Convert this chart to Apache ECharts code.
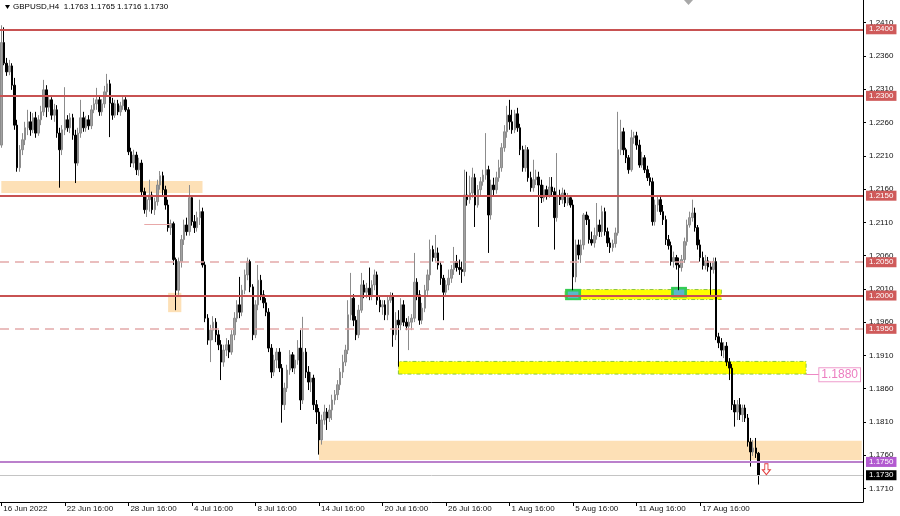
<!DOCTYPE html>
<html><head><meta charset="utf-8">
<script src="https://cdn.jsdelivr.net/npm/echarts@6/dist/echarts.min.js"></script>
<style>html,body{margin:0;padding:0;background:#fff}#c{width:900px;height:516px}</style>
</head><body><div id="c"></div>
<script>
// ---- data (GBPUSD H4, 16 Jun 2022 16:00 onward) ----
const opens = [
1.2226,1.2380,1.2349,1.2336,1.2345,1.2316,1.2256,1.2192,1.2219,1.2234,
1.2252,1.2261,1.2249,1.2267,1.2244,1.2264,1.2276,1.2309,1.2283,1.2294,
1.2271,1.2279,1.2244,1.2219,1.2249,1.2264,1.2252,1.2267,1.2241,1.2199,
1.2244,1.2267,1.2252,1.2264,1.2255,1.2279,1.2288,1.2294,1.2276,1.2288,
1.2306,1.2318,1.2289,1.2271,1.2288,1.2276,1.2285,1.2294,1.2279,1.2216,
1.2199,1.2211,1.2189,1.2199,1.2156,1.2129,1.2144,1.2151,1.2129,1.2141,
1.2166,1.2180,1.2159,1.2136,1.2102,1.2108,1.2054,1.2008,1.2051,1.2084,
1.2106,1.2096,1.2147,1.2111,1.2102,1.2117,1.2126,1.2046,1.1966,1.1933,
1.1948,1.1960,1.1941,1.1926,1.1900,1.1918,1.1926,1.1915,1.1941,1.1966,
1.1986,1.1975,1.2008,1.2031,1.2051,1.2013,1.1941,1.1986,1.2023,1.2001,
1.1989,1.1975,1.1921,1.1885,1.1903,1.1915,1.1891,1.1836,1.1861,1.1888,
1.1911,1.1891,1.1903,1.1921,1.1843,1.1915,1.1885,1.1870,1.1876,1.1836,
1.1825,1.1783,1.1813,1.1825,1.1816,1.1828,1.1843,1.1851,1.1866,1.1885,
1.1900,1.1918,1.1971,1.1996,1.1963,1.1941,1.1978,1.2016,1.2005,1.2011,
1.1999,1.2016,1.2031,1.1993,1.1983,1.1986,1.1971,1.1993,1.1998,1.1941,
1.1963,1.1956,1.1986,1.1960,1.1954,1.1960,1.1966,1.2020,1.2001,1.1963,
1.1981,1.2008,1.2031,1.2069,1.2057,1.2064,1.2046,1.2026,1.2005,1.2016,
1.2026,1.2039,1.2051,1.2042,1.2039,1.2036,1.2151,1.2144,1.2154,1.2177,
1.2136,1.2159,1.2171,1.2181,1.2189,1.2121,1.2166,1.2159,1.2177,1.2192,
1.2222,1.2246,1.2271,1.2261,1.2249,1.2273,1.2252,1.2219,1.2192,1.2219,
1.2177,1.2162,1.2174,1.2178,1.2166,1.2147,1.2159,1.2151,1.2163,1.2156,
1.2117,1.2151,1.2144,1.2154,1.2139,1.2147,1.2136,1.2028,1.2076,1.2061,
1.2076,1.2121,1.2114,1.2084,1.2079,1.2090,1.2106,1.2096,1.2126,1.2096,
1.2079,1.2072,1.2078,1.2094,1.2219,1.2246,1.2219,1.2207,1.2189,1.2237,
1.2240,1.2226,1.2196,1.2207,1.2189,1.2177,1.2171,1.2111,1.2136,1.2144,
1.2126,1.2114,1.2084,1.2075,1.2051,1.2057,1.2046,1.2042,1.2054,1.2081,
1.2106,1.2117,1.2124,1.2102,1.2076,1.2057,1.2045,1.2052,1.2043,1.2039,
1.2051,1.1938,1.1929,1.1918,1.1924,1.1900,1.1891,1.1836,1.1825,1.1836,
1.1821,1.1831,1.1816,1.1780,1.1765,1.1771,1.1763];
const closes = [
1.2380,1.2349,1.2336,1.2345,1.2316,1.2256,1.2192,1.2219,1.2234,1.2252,
1.2261,1.2249,1.2267,1.2244,1.2264,1.2276,1.2309,1.2283,1.2294,1.2271,
1.2279,1.2244,1.2219,1.2249,1.2264,1.2252,1.2267,1.2241,1.2199,1.2244,
1.2267,1.2252,1.2264,1.2255,1.2279,1.2288,1.2294,1.2276,1.2288,1.2306,
1.2318,1.2289,1.2271,1.2288,1.2276,1.2285,1.2294,1.2279,1.2216,1.2199,
1.2211,1.2189,1.2199,1.2156,1.2129,1.2144,1.2151,1.2129,1.2141,1.2166,
1.2180,1.2159,1.2136,1.2102,1.2108,1.2054,1.2008,1.2051,1.2084,1.2106,
1.2096,1.2147,1.2111,1.2102,1.2117,1.2126,1.2046,1.1966,1.1933,1.1948,
1.1960,1.1941,1.1926,1.1900,1.1918,1.1926,1.1915,1.1941,1.1966,1.1986,
1.1975,1.2008,1.2031,1.2051,1.2013,1.1941,1.1986,1.2023,1.2001,1.1989,
1.1975,1.1921,1.1885,1.1903,1.1915,1.1891,1.1836,1.1861,1.1888,1.1911,
1.1891,1.1903,1.1921,1.1843,1.1915,1.1885,1.1870,1.1876,1.1836,1.1825,
1.1783,1.1813,1.1825,1.1816,1.1828,1.1843,1.1851,1.1866,1.1885,1.1900,
1.1918,1.1971,1.1996,1.1963,1.1941,1.1978,1.2016,1.2005,1.2011,1.1999,
1.2016,1.2031,1.1993,1.1983,1.1986,1.1971,1.1993,1.1998,1.1941,1.1963,
1.1956,1.1986,1.1960,1.1954,1.1960,1.1966,1.2020,1.2001,1.1963,1.1981,
1.2008,1.2031,1.2069,1.2057,1.2064,1.2046,1.2026,1.2005,1.2016,1.2026,
1.2039,1.2051,1.2042,1.2039,1.2036,1.2151,1.2144,1.2154,1.2177,1.2136,
1.2159,1.2171,1.2181,1.2189,1.2121,1.2166,1.2159,1.2177,1.2192,1.2222,
1.2246,1.2271,1.2261,1.2249,1.2273,1.2252,1.2219,1.2192,1.2219,1.2177,
1.2162,1.2174,1.2178,1.2166,1.2147,1.2159,1.2151,1.2163,1.2156,1.2117,
1.2151,1.2144,1.2154,1.2139,1.2147,1.2136,1.2028,1.2076,1.2061,1.2076,
1.2121,1.2114,1.2084,1.2079,1.2090,1.2106,1.2096,1.2126,1.2096,1.2079,
1.2072,1.2078,1.2094,1.2219,1.2246,1.2219,1.2207,1.2189,1.2237,1.2240,
1.2226,1.2196,1.2207,1.2189,1.2177,1.2171,1.2111,1.2136,1.2144,1.2126,
1.2114,1.2084,1.2075,1.2051,1.2057,1.2046,1.2042,1.2054,1.2081,1.2106,
1.2117,1.2124,1.2102,1.2076,1.2057,1.2045,1.2052,1.2043,1.2039,1.2051,
1.1938,1.1929,1.1918,1.1924,1.1900,1.1891,1.1836,1.1825,1.1836,1.1821,
1.1831,1.1816,1.1780,1.1765,1.1771,1.1763,1.1730];
const lows = [
1.2222,1.2346,1.2330,1.2331,1.2309,1.2249,1.2186,1.2186,1.2211,1.2226,
1.2241,1.2240,1.2244,1.2237,1.2240,1.2256,1.2270,1.2268,1.2276,1.2264,
1.2261,1.2237,1.2162,1.2211,1.2241,1.2246,1.2244,1.2234,1.2169,1.2195,
1.2237,1.2246,1.2246,1.2249,1.2250,1.2274,1.2279,1.2270,1.2270,1.2282,
1.2300,1.2238,1.2264,1.2267,1.2271,1.2270,1.2279,1.2276,1.2211,1.2193,
1.2192,1.2181,1.2180,1.2150,1.2123,1.2118,1.2126,1.2123,1.2121,1.2135,
1.2159,1.2151,1.2129,1.2096,1.2091,1.2046,1.1978,1.2001,1.2042,1.2076,
1.2090,1.2090,1.2105,1.2094,1.2096,1.2106,1.2042,1.1960,1.1926,1.1900,
1.1933,1.1930,1.1918,1.1873,1.1893,1.1909,1.1906,1.1911,1.1933,1.1960,
1.1966,1.1969,1.2002,1.2023,1.2005,1.1933,1.1936,1.1978,1.1993,1.1981,
1.1969,1.1915,1.1876,1.1879,1.1891,1.1885,1.1809,1.1828,1.1855,1.1881,
1.1885,1.1882,1.1896,1.1828,1.1837,1.1876,1.1858,1.1855,1.1828,1.1807,
1.1761,1.1776,1.1806,1.1798,1.1810,1.1813,1.1836,1.1843,1.1858,1.1876,
1.1894,1.1912,1.1963,1.1954,1.1933,1.1936,1.1974,1.1996,1.1996,1.1993,
1.1993,1.2008,1.1986,1.1975,1.1971,1.1963,1.1963,1.1989,1.1923,1.1933,
1.1893,1.1948,1.1954,1.1948,1.1918,1.1948,1.1960,1.1993,1.1956,1.1957,
1.1975,1.2001,1.2023,1.2051,1.2051,1.2039,1.2016,1.1963,1.1999,1.2008,
1.2019,1.2031,1.2036,1.2031,1.2019,1.2029,1.2135,1.2138,1.2147,1.2103,
1.2132,1.2151,1.2165,1.2174,1.2064,1.2114,1.2151,1.2153,1.2171,1.2186,
1.2216,1.2237,1.2249,1.2243,1.2244,1.2246,1.2211,1.2186,1.2186,1.2171,
1.2156,1.2156,1.2166,1.2103,1.2139,1.2141,1.2144,1.2147,1.2148,1.2069,
1.2111,1.2136,1.2138,1.2133,1.2135,1.2132,1.2008,1.2020,1.2054,1.2049,
1.2069,1.2106,1.2078,1.2075,1.2072,1.2084,1.2088,1.2088,1.2090,1.2073,
1.2064,1.2066,1.2072,1.2090,1.2211,1.2211,1.2199,1.2183,1.2186,1.2228,
1.2219,1.2192,1.2192,1.2184,1.2172,1.2165,1.2105,1.2105,1.2126,1.2121,
1.2106,1.2076,1.2069,1.2045,1.2042,1.2039,1.2008,1.2036,1.2049,1.2075,
1.2102,1.2111,1.2096,1.2069,1.2051,1.2039,1.2039,1.2036,1.2001,1.2033,
1.1933,1.1921,1.1909,1.1906,1.1894,1.1873,1.1828,1.1803,1.1813,1.1813,
1.1810,1.1810,1.1773,1.1743,1.1759,1.1756,1.1716];
const highs = [
1.2406,1.2403,1.2357,1.2354,1.2349,1.2327,1.2264,1.2226,1.2244,1.2261,
1.2279,1.2276,1.2274,1.2276,1.2271,1.2285,1.2324,1.2316,1.2301,1.2298,
1.2288,1.2286,1.2252,1.2256,1.2313,1.2271,1.2274,1.2273,1.2249,1.2252,
1.2294,1.2276,1.2270,1.2271,1.2286,1.2297,1.2312,1.2300,1.2295,1.2315,
1.2333,1.2324,1.2297,1.2294,1.2294,1.2291,1.2300,1.2298,1.2283,1.2222,
1.2219,1.2216,1.2207,1.2204,1.2162,1.2151,1.2174,1.2156,1.2147,1.2174,
1.2187,1.2186,1.2165,1.2144,1.2114,1.2111,1.2057,1.2057,1.2091,1.2114,
1.2117,1.2166,1.2151,1.2121,1.2126,1.2144,1.2132,1.2051,1.1972,1.1956,
1.1969,1.1966,1.1948,1.1933,1.1926,1.1936,1.1933,1.1948,1.1975,1.1993,
1.2028,1.2016,1.2039,1.2057,1.2054,1.2017,1.1993,1.2046,1.2031,1.2008,
1.1996,1.1981,1.1927,1.1911,1.1921,1.1921,1.1897,1.1869,1.1896,1.1918,
1.1915,1.1911,1.1933,1.1948,1.1968,1.1921,1.1894,1.1885,1.1881,1.1843,
1.1831,1.1821,1.1836,1.1831,1.1836,1.1851,1.1858,1.1873,1.1891,1.1911,
1.1926,1.1993,1.2034,1.2002,1.1969,1.1986,1.2034,1.2023,1.2019,1.2042,
1.2023,1.2039,1.2036,1.1999,1.1993,1.1993,1.1999,1.2005,1.2004,1.1975,
1.1978,1.1996,1.1993,1.1966,1.1969,1.1972,1.2064,1.2026,1.2008,1.1989,
1.2016,1.2039,1.2084,1.2075,1.2091,1.2072,1.2051,1.2031,1.2023,1.2039,
1.2046,1.2073,1.2061,1.2054,1.2051,1.2189,1.2186,1.2180,1.2192,1.2183,
1.2166,1.2178,1.2189,1.2244,1.2195,1.2174,1.2177,1.2186,1.2204,1.2229,
1.2256,1.2285,1.2294,1.2279,1.2279,1.2282,1.2258,1.2225,1.2226,1.2223,
1.2186,1.2204,1.2189,1.2186,1.2174,1.2166,1.2165,1.2178,1.2178,1.2162,
1.2214,1.2159,1.2162,1.2159,1.2154,1.2151,1.2144,1.2084,1.2084,1.2084,
1.2124,1.2126,1.2120,1.2096,1.2102,1.2139,1.2114,1.2135,1.2132,1.2102,
1.2087,1.2084,1.2102,1.2276,1.2264,1.2252,1.2222,1.2211,1.2249,1.2246,
1.2246,1.2234,1.2216,1.2211,1.2195,1.2184,1.2177,1.2144,1.2150,1.2148,
1.2136,1.2120,1.2091,1.2081,1.2066,1.2061,1.2057,1.2061,1.2087,1.2114,
1.2126,1.2144,1.2132,1.2106,1.2084,1.2066,1.2061,1.2058,1.2051,1.2057,
1.2057,1.1944,1.1936,1.1930,1.1930,1.1906,1.1897,1.1843,1.1843,1.1846,
1.1836,1.1836,1.1822,1.1786,1.1783,1.1786,1.1765];

const xTickIndex = [0,24,48,72,96,120,144,168,192,216,240,264];
const xTickText = ['16 Jun 2022','22 Jun 16:00','28 Jun 16:00','4 Jul 16:00','8 Jul 16:00','14 Jul 16:00',
  '20 Jul 16:00','26 Jul 16:00','1 Aug 16:00','5 Aug 16:00','11 Aug 16:00','17 Aug 16:00'];
const yTickValues = [1.1710,1.1760,1.1810,1.1860,1.1910,1.1960,1.2010,1.2060,1.2110,1.2160,1.2210,1.2260,1.2310,1.2360,1.2410];

const solidLevels = [1.2400, 1.2300, 1.2150, 1.2000];
const dashedLevels = [1.2050, 1.1950];
const purpleLevel = 1.1750;
// zones: [fromBar, toBar, lowPrice, highPrice]
const peachZones = [[0,76,1.2154,1.2172],[63,68,1.1975,1.2004],[120,325,1.1753,1.1782]];
const yellowZones = [[150,304,1.1882,1.1901],[213,272,1.1994,1.2009]];
const greenBoxes = [[213,219,1.1993,1.2010],[253,259,1.1997,1.2013]];
const tealBoxes = [[214,218,1.1996,1.2006],[254,258,1.2000,1.2009]];
const thinSegment = [54,64,1.2107];
const targetLevel = {from:304, to:309, price:1.1881, text:'1.1880'};
const arrowPoint = [289, 1.1739];

// ---- chart ----
const N_SLOTS = 326;
const cats = [];
for (let i = 0; i < N_SLOTS; i++) cats.push(String(i));
const candles = opens.map((o, i) => [o, closes[i], lows[i], highs[i]]);
const last = opens.length - 1;
const FONT = 'Liberation Sans';

function area(z, style) {
  return [{coord:[z[0], z[2]], itemStyle: style}, {coord:[z[1], z[3]]}];
}
const areas = [];
peachZones.forEach(z => areas.push(area(z, {color:'#fde0b6'})));
yellowZones.forEach(z => areas.push(area(z, {color:'#ffff00', borderColor:'#8cc63f', borderWidth:1, borderType:[4,2,1,2]})));
greenBoxes.forEach(z => areas.push(area(z, {color:'#33cc55'})));
tealBoxes.forEach(z => areas.push(area(z, {color:'#5ab7c9'})));

function lvlLabel(bg) {
  return {show:true, position:'end', distance:3, formatter: p => Number(p.value).toFixed(4),
    color:'#fff', backgroundColor:bg, padding:[1,3,0,3], fontSize:8, fontFamily:FONT, lineHeight:9};
}
const lines = [];
solidLevels.forEach(v => lines.push({yAxis:v, lineStyle:{color:'#c85252', width:2, type:'solid'}, label:lvlLabel('#cf5a5a')}));
dashedLevels.forEach(v => lines.push({yAxis:v, lineStyle:{color:'#e3a9a9', width:1.5, type:[9,6]}, label:lvlLabel('#cf5a5a')}));
lines.push({yAxis:purpleLevel, lineStyle:{color:'#bb80cc', width:2, type:'solid'}, label:lvlLabel('#b25ad0')});
lines.push({yAxis:closes[last], lineStyle:{color:'#c4c4c4', width:1, type:'solid'}, label:lvlLabel('#000')});
lines.push([{coord:[thinSegment[0], thinSegment[2]], lineStyle:{color:'#e8a8a8', width:1, type:'solid'}, label:{show:false}},
            {coord:[thinSegment[1], thinSegment[2]]}]);
lines.push([{coord:[targetLevel.from, targetLevel.price], lineStyle:{color:'#ee88c4', width:1, type:'solid'},
             label:{show:true, position:'end', distance:0, formatter: targetLevel.text, color:'#ec7cc0',
               backgroundColor:'#fff', borderColor:'#ee9ccc', borderWidth:1, padding:[1,2,0,2], fontSize:12, fontFamily:FONT}},
            {coord:[targetLevel.to, targetLevel.price]}]);

const chart = echarts.init(document.getElementById('c'), null, {renderer:'canvas'});
chart.setOption({
  animation:false,
  backgroundColor:'#ffffff',
  grid:{left:0, right:37, top:0, bottom:14, containLabel:false},
  xAxis:{
    type:'category', data:cats, boundaryGap:true,
    axisLine:{show:true, lineStyle:{color:'#000', width:1}},
    axisTick:{show:true, alignWithLabel:true, length:4, lineStyle:{color:'#000'},
      interval:(i) => xTickIndex.indexOf(i) >= 0},
    axisLabel:{show:true, interval:(i) => xTickIndex.indexOf(i) >= 0, align:'left', margin:3,
      formatter:(v, i) => { const k = xTickIndex.indexOf(Number(v)); return k >= 0 ? xTickText[k] : ''; },
      color:'#111', fontSize:8, fontFamily:FONT, padding:[0,0,0,2]},
    splitLine:{show:false}
  },
  yAxis:{
    type:'value', position:'right', scale:true, min:1.16898, max:1.24440,
    axisLine:{show:true, lineStyle:{color:'#000', width:1}},
    axisTick:{show:true, length:3, lineStyle:{color:'#000'}, customValues:yTickValues},
    axisLabel:{show:true, customValues:yTickValues, formatter:v => v.toFixed(4), margin:6,
      color:'#111', fontSize:8, fontFamily:FONT},
    splitLine:{show:false}
  },
  graphic:[
    {type:'polygon', shape:{points:[[5,5],[10,5],[7.5,9]]}, style:{fill:'#000'}},
    {type:'text', left:13, top:3, style:{text:'GBPUSD,H4  ' + [opens[last], highs[last], lows[last], closes[last]].map(v => v.toFixed(4)).join(' '),
      fill:'#000', font:'8px "Liberation Sans"'}},
    {type:'polygon', shape:{points:[[684,0],[693,0],[688.5,5]]}, style:{fill:'#a8a8a8'}}
  ],
  series:[
    {type:'line', data:[], z:1, silent:true,
      markArea:{silent:true, data:areas},
      markLine:{silent:true, precision:5, symbol:['none','none'], data:lines, animation:false},
      markPoint:{silent:true, data:[{coord:arrowPoint, symbol:'path://M3,0 L7,0 L7,6 L10,6 L5,11 L0,6 L3,6 Z',
        symbolSize:[8,11], itemStyle:{color:'#fff', borderColor:'#e23c3c', borderWidth:1}, label:{show:false}}]}
    },
    {type:'candlestick', data:candles, z:3, barWidth:2,
      itemStyle:{color:'#a2a2a2', color0:'#000', borderColor:'#8c8c8c', borderColor0:'#000', borderWidth:1}}
  ]
});
</script></body></html>
